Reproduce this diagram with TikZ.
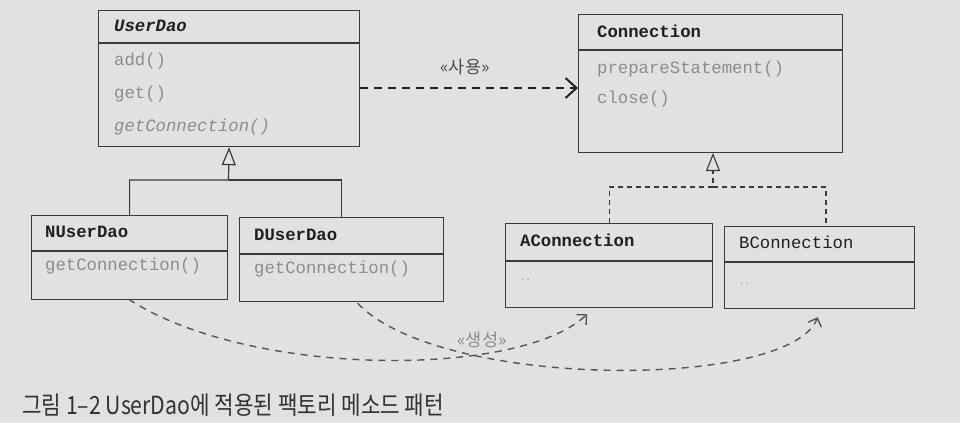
\documentclass[tikz,border=0pt]{standalone}
\usepackage{fontspec}
\setmonofont{Liberation Mono}
\newfontfamily\kr{Noto Sans CJK KR}
\newfontfamily\krcond[FakeStretch=0.85]{Noto Sans CJK KR}
\usetikzlibrary{arrows.meta,calc}
\definecolor{bg}{HTML}{E1E1E1}
\definecolor{ln}{HTML}{3A3A3A}
\definecolor{tx}{HTML}{202020}
\definecolor{mt}{HTML}{8C8C8C}
\definecolor{cap}{HTML}{333333}
\definecolor{crv}{HTML}{555555}
\begin{document}
\begin{tikzpicture}[x=1pt,y=-1pt,
  classbox/.style={draw=ln, line width=1.2pt, anchor=north west, inner sep=0pt},
  sepline/.style={draw=ln, line width=1.2pt},
  ctitle/.style={anchor=west, inner sep=0pt, text height=12pt, text depth=3pt,
    font=\ttfamily\bfseries\fontsize{17.3}{20}\selectfont, text=tx},
  cmeth/.style={anchor=west, inner sep=0pt, text height=12pt, text depth=3pt,
    font=\ttfamily\fontsize{17.3}{20}\selectfont, text=mt},
  genline/.style={draw=ln, line width=1.2pt},
  genarrow/.style={genline, -{Triangle[open, length=18pt, width=14pt, fill=bg]}},
  realline/.style={draw=ln, line width=1.1pt, dash pattern=on 5pt off 4pt},
  realarrow/.style={realline, -{Triangle[open, length=18pt, width=14pt, fill=bg]}},
  deparrow/.style={draw=tx, line width=2pt, dash pattern=on 8pt off 6pt,
    -{Straight Barb[length=11pt, width=20pt, line width=2pt]}},
  createarrow/.style={draw=crv, line width=1.4pt, dash pattern=on 7pt off 6pt,
    -{Straight Barb[length=7pt, width=14pt, line width=1.4pt]}},
  lbl/.style={inner sep=0pt, font=\kr\fontsize{17.5}{20}\selectfont}
]
\useasboundingbox (0,0) rectangle (960,423);
\fill[bg] (0,0) rectangle (960,423);

% UserDao
\node[classbox, minimum width=261pt, minimum height=136pt] (userdao) at (98,10) {};
\draw[sepline] ($(userdao.north west)+(0,33)$) -- ($(userdao.north east)+(0,33)$);
\node[ctitle, font=\ttfamily\bfseries\itshape\fontsize{17.3}{20}\selectfont] (userdaoT) at (114,27) {UserDao};
\node[cmeth] (userdaoM1) at (114,61) {add()};
\node[cmeth] (userdaoM2) at (114,94) {get()};
\node[cmeth, font=\ttfamily\itshape\fontsize{17.3}{20}\selectfont] (userdaoM3) at (114,127) {getConnection()};

% NUserDao
\node[classbox, minimum width=196pt, minimum height=84pt] (nuserdao) at (31,215) {};
\draw[sepline] ($(nuserdao.north west)+(0,36)$) -- ($(nuserdao.north east)+(0,36)$);
\node[ctitle] (nuserdaoT) at (45,233) {NUserDao};
\node[cmeth] (nuserdaoM) at (45,266) {getConnection()};

% DUserDao
\node[classbox, minimum width=204pt, minimum height=84pt] (duserdao) at (239,217) {};
\draw[sepline] ($(duserdao.north west)+(0,37)$) -- ($(duserdao.north east)+(0,37)$);
\node[ctitle] (duserdaoT) at (254,236) {DUserDao};
\node[cmeth] (duserdaoM) at (254,269) {getConnection()};

% Connection
\node[classbox, minimum width=264pt, minimum height=138pt] (conn) at (578,14) {};
\draw[sepline] ($(conn.north west)+(0,36)$) -- ($(conn.north east)+(0,36)$);
\node[ctitle] (connT) at (597,33) {Connection};
\node[cmeth] (connM1) at (597,69) {prepareStatement()};
\node[cmeth] (connM2) at (597,99) {close()};

% AConnection
\node[classbox, minimum width=207pt, minimum height=84pt] (aconn) at (505,223) {};
\draw[sepline] ($(aconn.north west)+(0,38)$) -- ($(aconn.north east)+(0,38)$);
\node[ctitle] (aconnT) at (520,242) {AConnection};
\node[cmeth, font=\ttfamily\fontsize{9}{10}\selectfont] (aconnM) at (520,276) {..};

% BConnection
\node[classbox, minimum width=190pt, minimum height=82pt] (bconn) at (724,226) {};
\draw[sepline] ($(bconn.north west)+(0,36)$) -- ($(bconn.north east)+(0,36)$);
\node[ctitle, font=\ttfamily\fontsize{17.3}{20}\selectfont] (bconnT) at (739,244) {BConnection};
\node[cmeth, font=\ttfamily\fontsize{9}{10}\selectfont] (bconnM) at (739,280) {..};

% generalization UserDao
\coordinate (gj) at (228.5,180);
\draw[genarrow] (nuserdao.north) |- (gj) -- (userdao.south);
\draw[genline] (duserdao.north) |- (gj);

% realization Connection
\coordinate (rj) at (713,187);
\coordinate (rt) at (713,153);
\coordinate (bj) at (826,187);
\draw[realarrow] (aconn.north) |- (rj) -- (rt);
\draw[realline] (rj) -- (bj) -- (bj |- bconn.north);

% dependency
\coordinate (dy) at (0,88);
\draw[deparrow] (userdao.east |- dy) -- (conn.west |- dy);
\node[lbl, text=tx!80] (uselbl) at (465,67) {«사용»};

% create
\draw[createarrow] ($(nuserdao.south)+(-1,-1)$) .. controls (250,378) and (520,378) .. ($(aconn.south)+(-22,6)$);
\draw[createarrow] ($(duserdao.south)+(16,1)$) .. controls (440,390) and (790,390) .. ($(bconn.south)+(-2,8)$);
\node[lbl, text=mt] (createlbl) at (482,340) {«생성»};

% caption
\node[anchor=west, inner sep=0pt, font=\krcond\fontsize{25}{27}\selectfont, text=cap] (caption) at (22,405) {그림 1–2 UserDao에 적용된 팩토리 메소드 패턴};
\end{tikzpicture}
\end{document}
